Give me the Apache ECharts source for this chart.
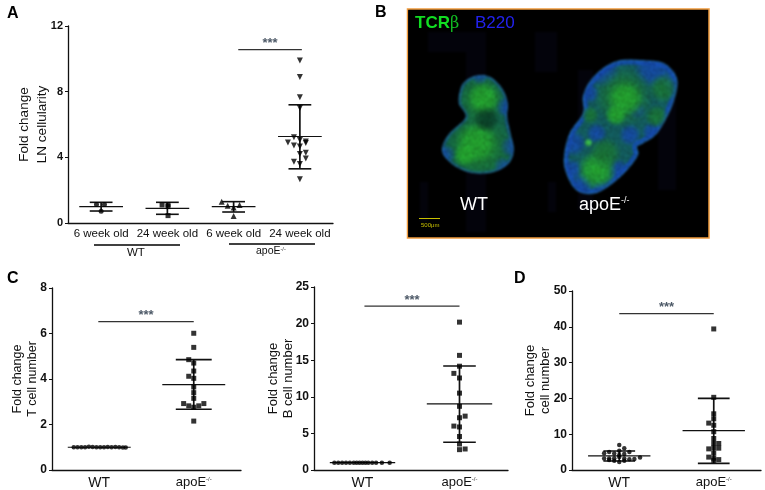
<!DOCTYPE html>
<html>
<head>
<meta charset="utf-8">
<style>html,body{margin:0;padding:0;background:#fff}#chart{width:765px;height:490px}</style>
<script src="https://cdn.jsdelivr.net/npm/echarts@6/dist/echarts.min.js"></script>
</head>
<body>
<div id="chart"></div>
<script>
var FONT = '"Liberation Sans", Arial, sans-serif';

// A: lymph node cellularity, [x, y] with x = group + swarm offset
var ageLabels = ['6 week old', '24 week old', '6 week old', '24 week old'];
var aWt6 = [[0.93, 1.12], [1.05, 1.12], [1, 0.72]];
var aWt24 = [[1.92, 1.1], [2.01, 1.12], [2.01, 1.0], [2.01, 0.45]];
var aApo6 = [[2.82, 1.3], [2.91, 1.05], [3.09, 1.1], [3, 0.95], [3, 0.42]];
var aApo24 = [[4, 9.9], [4, 8.9], [4, 7.66], [4, 7.0], [3.91, 5.23], [3.82, 4.9], [4, 5.05], [4.09, 4.97], [4.09, 4.87], [3.91, 4.72], [4, 4.66], [4, 4.2], [4.09, 4.28], [4.09, 3.93], [3.91, 3.73], [4, 3.59], [4, 2.66]];
// [x, lower, mean, upper]
var aStats = [[1, 0.73, 1.0, 1.26], [2, 0.53, 0.89, 1.26], [3, 0.67, 1.0, 1.3], [4, 3.3, 5.27, 7.2]];

// C: T cell number
var genotypes = ['WT', 'apoE-/-'];
var tWt = [[0.73, 1], [0.77, 1], [0.81, 1], [0.85, 1], [0.89, 1.02], [0.93, 1.01], [0.97, 1], [1.01, 1], [1.05, 1], [1.09, 1.01], [1.13, 1], [1.17, 1.01], [1.21, 1], [1.25, 0.99], [1.28, 0.99]];
var tApo = [[2, 6.01], [2, 5.39], [1.947, 4.85], [2, 4.7], [2, 4.35], [1.947, 4.12], [2, 4.03], [2, 3.65], [2, 3.4], [2, 3.15], [1.893, 2.92], [2.107, 2.92], [1.947, 2.82], [2.053, 2.82], [2, 2.76], [2, 2.15]];
var tStats = [[2, 2.67, 3.75, 4.85]];
var tWtMean = [[1, 1, 1, 1]];

// C right: B cell number
var bWt = [[0.71, 1], [0.75, 1], [0.79, 1], [0.83, 1], [0.87, 1], [0.91, 1], [0.94, 1], [0.97, 1], [1, 1], [1.03, 1], [1.06, 1], [1.1, 1], [1.14, 1], [1.2, 1], [1.28, 1]];
var bApo = [[2, 20.2], [2, 15.66], [2, 14.18], [1.942, 13.2], [2, 12.57], [2, 10.5], [2, 8.7], [2.058, 7.36], [2, 7.14], [1.942, 6.0], [2, 5.88], [2, 4.58], [2, 3.55], [2.058, 2.87], [2, 2.78]];
var bStats = [[2, 3.8, 9.02, 14.2]];
var bWtMean = [[1, 1, 1, 1]];

// D: cell number
var dWt = [[1, 7.0], [1.053, 6.1], [1, 5.4], [0.893, 5.0], [1.107, 5.0], [0.84, 4.7], [0.947, 4.6], [1.053, 4.5], [1, 4.2], [0.84, 3.2], [0.893, 3.2], [0.947, 3.3], [1, 3.6], [1.053, 3.2], [1.107, 3.0], [1.16, 3.1], [1.22, 3.5], [0.893, 2.8], [0.947, 2.6], [1.053, 2.6], [1, 2.2]];
var dApo = [[2, 39.4], [2, 20.3], [2, 15.7], [2, 14.3], [1.947, 13.1], [2, 12.5], [2, 10.7], [2, 8.8], [2, 7.4], [2.053, 7.4], [2.053, 6.1], [1.947, 5.9], [2, 6.1], [2, 4.7], [1.947, 3.6], [2, 3.3], [2.053, 2.9], [2, 2.7]];
var dStats = [[1, 2.5, 3.95, 5.3], [2, 1.84, 11.0, 20.0]];

// significance bars: [x1, x2, y]
var aSig = [3.07, 4.03, 10.56];
var tSig = [0.99, 2.0, 6.52];
var bSig = [1.02, 2.0, 22.4];
var dSig = [1.0, 2.0, 43.7];

var panels = [
    {left: 68, top: 26, width: 265, height: 197, cats: ageLabels, yMax: 12, yStep: 4, name: 'Fold change\nLN cellularity', nameGap: 17, nameSize: 13.5, nameLine: 18, catSize: 11.5, labelMargin: 5, capHalf: 0.172, meanHalf: 0.33, sig: aSig, stats: aStats, tickSize: 11,
        marks: [[aWt6, 'circle', 5, 0], [aWt24, 'rect', 5, 0], [aApo6, 'triangle', 6, 0], [aApo24, 'triangle', 6, 180]]},
    {left: 52, top: 288, width: 189, height: 184, cats: genotypes, yMax: 8, yStep: 2, name: 'Fold change\nT cell number', nameGap: 12, nameSize: 12.5, nameLine: 15, catSize: 14, labelMargin: 6, capHalf: 0.19, meanHalf: 0.333, sig: tSig, stats: tStats, wtMean: tWtMean, tickSize: 12,
        marks: [[tWt, 'circle', 4.5, 0], [tApo, 'rect', 5, 0]]},
    {left: 314, top: 287, width: 194, height: 185, cats: genotypes, yMax: 25, yStep: 5, name: 'Fold change\nB cell number', nameGap: 18, nameSize: 13, nameLine: 15, catSize: 14, labelMargin: 6, capHalf: 0.168, meanHalf: 0.337, sig: bSig, stats: bStats, wtMean: bWtMean, tickSize: 12,
        marks: [[bWt, 'circle', 4.5, 0], [bApo, 'rect', 5, 0]]},
    {left: 572, top: 291, width: 189, height: 181, cats: genotypes, yMax: 50, yStep: 10, name: 'Fold change\ncell number', nameGap: 19, nameSize: 13, nameLine: 15, catSize: 14, labelMargin: 6, capHalf: 0.168, meanHalf: 0.33, sig: dSig, stats: dStats, tickSize: 12,
        marks: [[dWt, 'circle', 4.5, 0], [dApo, 'rect', 5, 0]]}
];

function statSeries(stats, xIdx, yIdx, capHalf, meanHalf) {
    return {
        type: 'custom', xAxisIndex: xIdx, yAxisIndex: yIdx, silent: true, clip: false,
        data: stats,
        renderItem: function (params, api) {
            var x = api.value(0), lo = api.value(1), mean = api.value(2), hi = api.value(3);
            function seg(x1, y1, x2, y2, w) {
                var a = api.coord([x1, y1]), b = api.coord([x2, y2]);
                return {type: 'line', shape: {x1: a[0], y1: a[1], x2: b[0], y2: b[1]}, style: {stroke: '#111', lineWidth: w}};
            }
            return {type: 'group', children: [
                seg(x, lo, x, hi, 1.7),
                seg(x - capHalf, hi, x + capHalf, hi, 1.6),
                seg(x - capHalf, lo, x + capHalf, lo, 1.6),
                seg(x - meanHalf, mean, x + meanHalf, mean, 1.2)
            ]};
        }
    };
}

function sigSeries(sig, xIdx, yIdx) {
    return {
        type: 'custom', xAxisIndex: xIdx, yAxisIndex: yIdx, silent: true, clip: false,
        data: [sig],
        renderItem: function (params, api) {
            var a = api.coord([api.value(0), api.value(2)]), b = api.coord([api.value(1), api.value(2)]);
            return {type: 'group', children: [
                {type: 'line', shape: {x1: a[0], y1: a[1], x2: b[0], y2: b[1]}, style: {stroke: '#333', lineWidth: 1.2}},
                {type: 'text', style: {x: (a[0] + b[0]) / 2, y: a[1] - 6, text: '***', fill: '#4e5a68', font: 'bold 13px ' + FONT, textAlign: 'center', textVerticalAlign: 'middle'}}
            ]};
        }
    };
}

var grid = [], xAxis = [], yAxis = [], series = [];
panels.forEach(function (p, i) {
    grid.push({left: p.left, top: p.top, width: p.width, height: p.height});
    // visible category axis carries the labels, hidden value axis positions the swarm
    xAxis.push({
        type: 'category', gridIndex: i, data: p.cats, boundaryGap: true,
        axisLine: {lineStyle: {color: '#111', width: 1.3}},
        axisTick: {alignWithLabel: true, length: 3, lineStyle: {color: '#111', width: 1}},
        axisLabel: {
            color: '#111', fontFamily: FONT, fontSize: p.catSize, margin: p.labelMargin, interval: 0,
            formatter: function (v) { return v === 'apoE-/-' ? '{a|apoE}{s|-/-}' : v; },
            rich: {a: {fontFamily: FONT, fontSize: p.catSize - 1, color: '#111'}, s: {fontFamily: FONT, fontSize: 6, color: '#333', verticalAlign: 'top'}}
        }
    });
    xAxis.push({type: 'value', gridIndex: i, show: false, min: 0.5, max: p.cats.length + 0.5});
    yAxis.push({
        type: 'value', gridIndex: i, min: 0, max: p.yMax, interval: p.yStep,
        name: p.name, nameLocation: 'middle', nameGap: p.nameGap, nameRotate: 90, nameMoveOverlap: false,
        nameTextStyle: {color: '#111', fontFamily: FONT, fontSize: p.nameSize, lineHeight: p.nameLine},
        axisLine: {show: true, lineStyle: {color: '#111', width: 1.3}},
        axisTick: {show: true, length: 3, lineStyle: {color: '#111', width: 1}},
        axisLabel: {color: '#111', fontFamily: FONT, fontSize: p.tickSize, fontWeight: 'bold', margin: 5},
        splitLine: {show: false}
    });
    var xIdx = i * 2 + 1;
    series.push(statSeries(p.stats, xIdx, i, p.capHalf, p.meanHalf));
    if (p.wtMean) series.push(statSeries(p.wtMean, xIdx, i, 0, p.meanHalf));
    series.push(sigSeries(p.sig, xIdx, i));
    p.marks.forEach(function (m) {
        series.push({
            type: 'scatter', xAxisIndex: xIdx, yAxisIndex: i, silent: true, clip: false,
            data: m[0], symbol: m[1], symbolSize: m[2], symbolRotate: m[3],
            itemStyle: {color: '#000'}
        });
    });
});

// micrograph in panel B, painted once on a spare canvas and placed as an image.
// outlines were taken off a 3x crop starting at x=370, y=0
var MICRO_X = 408, MICRO_Y = 10, MICRO_W = 300, MICRO_H = 227;
var wtOutline = [[285, 245], [320, 228], [360, 232], [395, 265], [412, 310], [410, 350], [420, 400], [430, 450], [415, 490], [370, 515], [310, 518], [260, 500], [225, 470], [218, 440], [240, 400], [288, 352], [268, 310], [272, 270]];
var apoOutline = [[640, 290], [660, 245], [700, 205], [750, 182], [820, 182], [880, 190], [915, 225], [920, 265], [900, 330], [860, 400], [820, 428], [800, 440], [803, 465], [770, 510], [720, 555], [670, 580], [620, 570], [590, 520], [583, 470], [600, 400], [640, 340]];
var GREEN = [35, 160, 45, 1], DKGREEN = [25, 115, 50, 0.9], BLUE = [20, 70, 165, 0.9], DARK = [5, 45, 30, 0.7];
var wtPatches = [[405, 320, 30, BLUE], [232, 462, 28, BLUE], [418, 440, 30, BLUE], [330, 235, 22, BLUE], [395, 495, 25, BLUE],
    [335, 300, 75, DKGREEN], [340, 295, 50, GREEN], [325, 440, 105, DKGREEN], [320, 430, 65, GREEN], [285, 465, 35, GREEN], [350, 358, 40, DARK]];
var apoPatches = [[700, 215, 50, BLUE], [850, 205, 60, BLUE], [905, 250, 32, BLUE], [660, 280, 30, BLUE], [610, 430, 40, BLUE], [605, 510, 34, BLUE], [635, 555, 35, BLUE], [745, 510, 34, BLUE], [780, 405, 34, BLUE], [690, 565, 25, BLUE], [845, 395, 30, BLUE], [800, 330, 28, BLUE], [680, 400, 32, BLUE],
    [760, 290, 92, DKGREEN], [765, 295, 55, GREEN], [738, 345, 34, GREEN], [880, 265, 45, DKGREEN], [860, 350, 36, DKGREEN], [680, 510, 60, GREEN], [705, 460, 50, DKGREEN], [655, 428, 13, [60, 190, 70, 1]], [660, 345, 28, DKGREEN]];

function tracePath(ctx, pts) {
    var n = pts.length;
    function p(i) { var q = pts[(i + n) % n]; return [q[0] / 3 + 370 - MICRO_X, q[1] / 3 - MICRO_Y]; }
    ctx.beginPath();
    ctx.moveTo(p(0)[0], p(0)[1]);
    for (var i = 0; i < n; i++) {
        var a = p(i - 1), b = p(i), c = p(i + 1), d = p(i + 2);
        ctx.bezierCurveTo(b[0] + (c[0] - a[0]) / 6, b[1] + (c[1] - a[1]) / 6, c[0] - (d[0] - b[0]) / 6, c[1] - (d[1] - b[1]) / 6, c[0], c[1]);
    }
    ctx.closePath();
}

function paintTissue(ctx, pts, patches, base, rim, rimWidth) {
    ctx.save();
    tracePath(ctx, pts);
    ctx.clip();
    ctx.fillStyle = base;
    ctx.fillRect(0, 0, MICRO_W, MICRO_H);
    tracePath(ctx, pts);
    ctx.strokeStyle = rim;
    ctx.lineWidth = rimWidth;
    ctx.stroke();
    patches.forEach(function (g) {
        var cx = g[0] / 3 + 370 - MICRO_X, cy = g[1] / 3 - MICRO_Y, r = g[2] / 3, c = g[3];
        var rgb = 'rgba(' + c[0] + ',' + c[1] + ',' + c[2] + ',';
        var fill = ctx.createRadialGradient(cx, cy, 0, cx, cy, r);
        fill.addColorStop(0, rgb + c[3] + ')');
        fill.addColorStop(0.55, rgb + c[3] * 0.8 + ')');
        fill.addColorStop(1, rgb + '0)');
        ctx.fillStyle = fill;
        ctx.fillRect(cx - r, cy - r, 2 * r, 2 * r);
    });
    ctx.restore();
    tracePath(ctx, pts);
    ctx.strokeStyle = '#2a78b8';
    ctx.lineWidth = 0.8;
    ctx.stroke();
}

function grain(x, y) {
    var s = Math.sin(x * 12.9898 + y * 78.233) * 43758.5453;
    return s - Math.floor(s);
}

function paintMicrograph() {
    var raw = document.createElement('canvas');
    raw.width = MICRO_W;
    raw.height = MICRO_H;
    var ctx = raw.getContext('2d');
    ctx.fillStyle = '#000';
    ctx.fillRect(0, 0, MICRO_W, MICRO_H);
    // faint stitching bands in the background
    ctx.fillStyle = 'rgba(14,14,50,0.22)';
    [[20, 22, 38, 20], [58, 22, 20, 200], [127, 22, 22, 40], [170, 60, 15, 140], [12, 172, 8, 40], [140, 172, 8, 30], [250, 60, 18, 120]].forEach(function (r) {
        ctx.fillRect(r[0], r[1], r[2], r[3]);
    });
    paintTissue(ctx, wtOutline, wtPatches, '#12604a', 'rgba(20,80,120,0.8)', 5);
    paintTissue(ctx, apoOutline, apoPatches, '#125a5c', 'rgba(20,75,170,0.9)', 9);
    // grainy tissue texture, only over lit pixels
    var img = ctx.getImageData(0, 0, MICRO_W, MICRO_H), d = img.data;
    for (var y = 0; y < MICRO_H; y++) {
        for (var x = 0; x < MICRO_W; x++) {
            var k = (y * MICRO_W + x) * 4;
            if (d[k + 1] < 40 && d[k + 2] < 70) continue;
            var t = 0.78 + 0.42 * grain(x, y);
            d[k] *= t; d[k + 1] *= t; d[k + 2] *= t;
        }
    }
    ctx.putImageData(img, 0, 0);
    var out = document.createElement('canvas');
    out.width = MICRO_W;
    out.height = MICRO_H;
    var o = out.getContext('2d');
    o.filter = 'blur(0.8px)';
    o.drawImage(raw, 0, 0);
    return out;
}

var graphic = [
    {type: 'rect', silent: true, shape: {x: 407.5, y: 9, width: 301.5, height: 229}, style: {fill: '#000', stroke: '#f09a3c', lineWidth: 1.5}},
    {type: 'image', silent: true, x: MICRO_X, y: MICRO_Y, style: {image: paintMicrograph(), x: 0, y: 0, width: MICRO_W, height: MICRO_H}},
    {type: 'text', silent: true, left: 415, top: 15, style: {rich: {a: {fontFamily: FONT, fontSize: 17, fontWeight: 'bold', fill: '#11dd22'}, b: {fontFamily: '"DejaVu Serif", serif', fontSize: 16, fill: '#11bb22'}}, text: '{a|TCR}{b|β}'}},
    {type: 'text', silent: true, left: 475, top: 15, style: {text: 'B220', font: '17px ' + FONT, fill: '#2222ee'}},
    {type: 'text', silent: true, left: 460, top: 196, style: {text: 'WT', font: '18px ' + FONT, fill: '#fff'}},
    {type: 'text', silent: true, left: 579, top: 196, style: {rich: {a: {fontFamily: FONT, fontSize: 18, fill: '#fff'}, s: {fontFamily: FONT, fontSize: 9, fill: '#fff', verticalAlign: 'top'}}, text: '{a|apoE}{s|-/-}'}},
    {type: 'line', silent: true, shape: {x1: 419, y1: 218.5, x2: 440, y2: 218.5}, style: {stroke: '#c8c000', lineWidth: 1}},
    {type: 'text', silent: true, left: 421, top: 222, style: {text: '500μm', font: '6px ' + FONT, fill: '#c8c000'}},
    // panel letters
    {type: 'text', silent: true, left: 7, top: 6, style: {text: 'A', font: 'bold 16px ' + FONT, fill: '#000'}},
    {type: 'text', silent: true, left: 375, top: 5, style: {text: 'B', font: 'bold 16px ' + FONT, fill: '#000'}},
    {type: 'text', silent: true, left: 7, top: 271, style: {text: 'C', font: 'bold 16px ' + FONT, fill: '#000'}},
    {type: 'text', silent: true, left: 514, top: 271, style: {text: 'D', font: 'bold 16px ' + FONT, fill: '#000'}},
    // genotype brackets under panel A
    {type: 'line', silent: true, shape: {x1: 94, y1: 245, x2: 180, y2: 245}, style: {stroke: '#000', lineWidth: 1.5}},
    {type: 'line', silent: true, shape: {x1: 229, y1: 244, x2: 315, y2: 244}, style: {stroke: '#000', lineWidth: 1.5}},
    {type: 'text', silent: true, left: 127, top: 247, style: {text: 'WT', font: '11.5px ' + FONT, fill: '#111'}},
    {type: 'text', silent: true, left: 256, top: 246, style: {rich: {a: {fontFamily: FONT, fontSize: 10.5, fill: '#111'}, s: {fontFamily: FONT, fontSize: 5.5, fill: '#333', verticalAlign: 'top'}}, text: '{a|apoE}{s|-/-}'}}
];

var chart = echarts.init(document.getElementById('chart'), null, {renderer: 'canvas'});
chart.setOption({
    animation: false,
    backgroundColor: '#fff',
    grid: grid,
    xAxis: xAxis,
    yAxis: yAxis,
    series: series,
    graphic: graphic
});
</script>
</body>
</html>
